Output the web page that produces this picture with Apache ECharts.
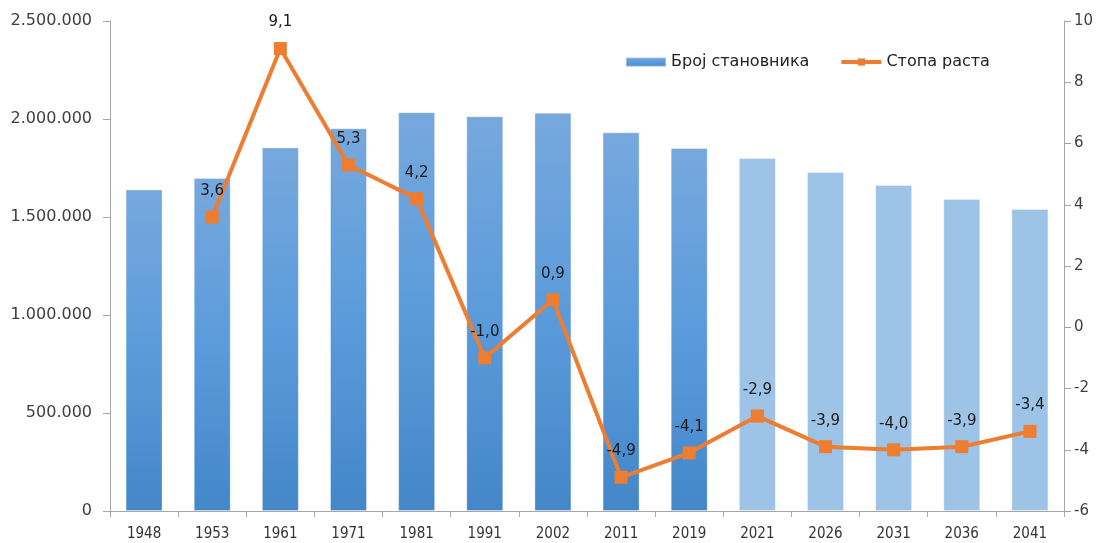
<!DOCTYPE html>
<html>
<head>
<meta charset="utf-8">
<script src="https://cdn.jsdelivr.net/npm/echarts@6/dist/echarts.min.js"></script>
<style>html,body{margin:0;padding:0;background:#fff}#c{width:1099px;height:543px}</style>
</head>
<body>
<div id="c"></div>
<script>
const years = ['1948','1953','1961','1971','1981','1991','2002','2011','2019','2021','2026','2031','2036','2041'];
const population = [1640757,1699545,1854965,1952533,2034772,2013889,2031992,1931809,1852093,1801000,1730000,1663000,1592000,1541000];
const growthRate = [null,3.6,9.1,5.3,4.2,-1.0,0.9,-4.9,-4.1,-2.9,-3.9,-4.0,-3.9,-3.4];
const projectedFrom = 9; // index of first projected year
const leftTicks = {min:0, max:2500000, interval:500000};
const rightTicks = {min:-6, max:10, interval:2};

const grad = new echarts.graphic.LinearGradient(0,0,0,1,[
  {offset:0,color:'#76a8dd'},{offset:0.5,color:'#5b9bdb'},{offset:1,color:'#4387c8'}]);
const barData = population.map((v,i)=> i>=projectedFrom ? {value:v,itemStyle:{color:'#9dc3e6'}} : {value:v});

const chart = echarts.init(document.getElementById('c'));
chart.setOption({
  animation:false,
  textStyle:{fontFamily:'DejaVu Sans'},
  grid:{left:110,right:35,top:21,bottom:32,containLabel:false},
  legend:{
    top:49,left:620,itemGap:30,itemWidth:40,itemHeight:9,
    textStyle:{fontSize:16,color:'#222',fontFamily:'DejaVu Sans'},
    data:[{name:'Број становника',icon:'rect'},
          {name:'Стопа раста',lineStyle:{width:4,color:'#ed7d31'}}]
  },
  xAxis:{
    type:'category',data:years,
    axisLine:{lineStyle:{color:'#a6a6a6',width:1}},
    axisTick:{show:true,length:6,lineStyle:{color:'#a6a6a6'}},
    axisLabel:{color:'#333',fontSize:15,fontFamily:'Liberation Sans Narrow, DejaVu Sans Condensed, sans-serif',margin:16}
  },
  yAxis:[
    {type:'value',min:leftTicks.min,max:leftTicks.max,interval:leftTicks.interval,
     splitLine:{show:false},
     axisLine:{show:true,lineStyle:{color:'#a6a6a6'}},
     axisTick:{show:true,length:7,lineStyle:{color:'#a6a6a6'}},
     axisLabel:{color:'#404040',fontSize:16,margin:18,
       formatter:v=>String(v).replace(/\B(?=(\d{3})+(?!\d))/g,'.')}},
    {type:'value',min:rightTicks.min,max:rightTicks.max,interval:rightTicks.interval,
     position:'right',splitLine:{show:false},
     axisLine:{show:true,lineStyle:{color:'#a6a6a6'}},
     axisTick:{show:true,length:7,lineStyle:{color:'#a6a6a6'}},
     axisLabel:{color:'#404040',fontSize:15,margin:10}}
  ],
  series:[
    {name:'Број становника',type:'bar',data:barData,barWidth:37,yAxisIndex:0,
     itemStyle:{color:grad,borderColor:'rgba(255,255,255,0.35)',borderWidth:1}},
    {name:'Стопа раста',type:'line',data:growthRate,yAxisIndex:1,
     symbol:'rect',symbolSize:13,connectNulls:false,
     lineStyle:{color:'#ed7d31',width:4},
     itemStyle:{color:'#ed7d31'},
     label:{show:true,position:'top',distance:12,fontSize:15,color:'#1a1a1a',
       formatter:p=>p.value==null?'':p.value.toFixed(1).replace('.',',')}}
  ]
});
</script>
</body>
</html>
